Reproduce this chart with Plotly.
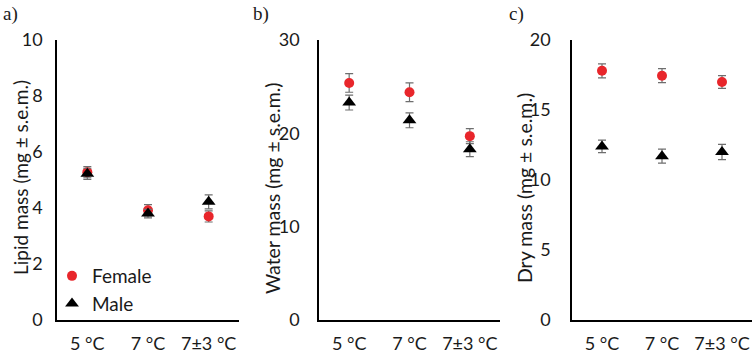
import plotly.graph_objects as go

categories = ["5 °C", "7 °C", "7±3 °C"]

lipid_female = [5.28, 3.92, 3.70]
lipid_female_err = [0.2, 0.2, 0.2]
lipid_male = [5.22, 3.80, 4.22]
lipid_male_err = [0.2, 0.15, 0.25]

water_female = [25.4, 24.4, 19.7]
water_female_err = [1.0, 1.0, 0.8]
water_male = [23.3, 21.4, 18.3]
water_male_err = [0.8, 0.8, 0.8]

dry_female = [17.8, 17.45, 17.0]
dry_female_err = [0.5, 0.5, 0.45]
dry_male = [12.4, 11.7, 12.0]
dry_male_err = [0.45, 0.5, 0.55]

y_titles = ["Lipid mass (mg ± s.e.m.)", "Water mass (mg ± s.e.m.)", "Dry mass (mg ± s.e.m.)"]
y_ranges = [[0, 10], [0, 30], [0, 20]]
y_dticks = [2, 10, 5]
panel_labels = ["a)", "b)", "c)"]

W, H = 752, 354
FONT = "Lato"
RED = "#e8262b"
ERR = "#6e6e6e"
TXT = "#1a1a1a"

panels = [
    (lipid_female, lipid_female_err, lipid_male, lipid_male_err),
    (water_female, water_female_err, water_male, water_male_err),
    (dry_female, dry_female_err, dry_male, dry_male_err),
]
x_px = [(57, 239), (319, 500), (572, 752)]
y_dom = [(354 - 320) / H, (354 - 40) / H]
ystandoff = [9, 14, 16]

fig = go.Figure()
for i, (fv, fe, mv, me) in enumerate(panels):
    xa = "x" if i == 0 else f"x{i+1}"
    ya = "y" if i == 0 else f"y{i+1}"
    fig.add_trace(go.Scatter(
        x=categories, y=fv, mode="markers", name="Female",
        marker=dict(symbol="circle", size=10, color=RED),
        error_y=dict(type="data", array=fe, color=ERR, thickness=1.2, width=4),
        xaxis=xa, yaxis=ya, showlegend=(i == 0), legendgroup="f"))
    fig.add_trace(go.Scatter(
        x=categories, y=mv, mode="markers", name="Male",
        marker=dict(symbol="triangle-up", size=12, color="black"),
        error_y=dict(type="data", array=me, color=ERR, thickness=1.2, width=4),
        xaxis=xa, yaxis=ya, showlegend=(i == 0), legendgroup="m"))

layout = dict(
    width=W, height=H, margin=dict(l=0, r=0, t=0, b=0, autoexpand=False),
    paper_bgcolor="white", plot_bgcolor="white",
    font=dict(family=FONT, size=16, color=TXT),
    legend=dict(x=52 / W, y=1 - 257 / H, xanchor="left", yanchor="top",
                bgcolor="rgba(0,0,0,0)", font=dict(size=19, family=FONT),
                tracegroupgap=0),
)
for i in range(3):
    xk = "xaxis" if i == 0 else f"xaxis{i+1}"
    yk = "yaxis" if i == 0 else f"yaxis{i+1}"
    xa = "x" if i == 0 else f"x{i+1}"
    layout[xk] = dict(
        domain=[x_px[i][0] / W, x_px[i][1] / W], anchor="y" if i == 0 else f"y{i+1}",
        type="category", range=[-0.5, 2.5], showline=True, linecolor="black",
        linewidth=1.5, showgrid=False, zeroline=False, ticks="", automargin=False,
        tickfont=dict(size=18, family=FONT), ticklabelstandoff=7, fixedrange=True)
    layout[yk] = dict(
        domain=list(y_dom), anchor=xa, range=y_ranges[i], dtick=y_dticks[i],
        showline=True, linecolor="black", linewidth=1.5, showgrid=False,
        zeroline=False, ticks="", tickfont=dict(size=18, family=FONT), automargin=False,
        ticklabelstandoff=ystandoff[i])
fig.update_layout(**layout)

title_x = [20, 272, 524]
title_y = [178, 188, 188]
title_size = [19, 19.5, 19.5]
for i, t in enumerate(y_titles):
    fig.add_annotation(x=title_x[i] / W, y=1 - title_y[i] / H, xref="paper", yref="paper",
                       xanchor="center", yanchor="middle", text=t, textangle=-90,
                       showarrow=False, font=dict(size=title_size[i], family=FONT, color=TXT))

label_x = [1, 251, 507]
for i, lab in enumerate(panel_labels):
    fig.add_annotation(x=label_x[i] / W, y=1 - 1 / H, xref="paper", yref="paper",
                       xanchor="left", yanchor="top", text=lab, showarrow=False,
                       font=dict(size=19, family="Liberation Serif", color=TXT))

fig.write_html("out.html")
